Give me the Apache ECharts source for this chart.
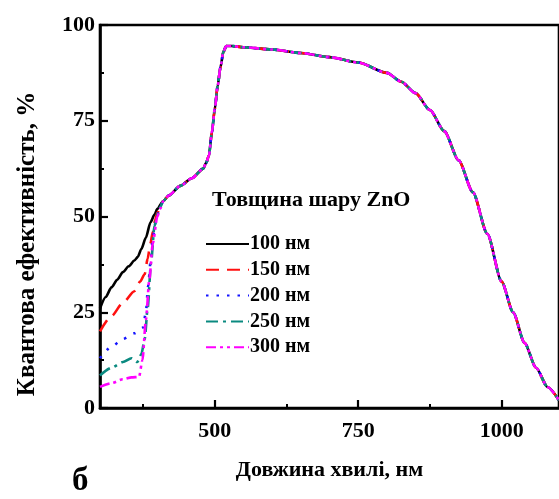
<!DOCTYPE html>
<html>
<head>
<meta charset="utf-8">
<script src="https://cdn.jsdelivr.net/npm/echarts@6/dist/echarts.min.js"></script>
<style>html,body{margin:0;padding:0;background:#fff;}#c{width:559px;height:499px;}</style>
</head>
<body>
<div id="c"></div>
<script>
// Shared part of all curves (wavelength, nm / quantum efficiency, %)
var commonX = [410, 420, 440, 460, 480, 485, 490, 495, 500, 505, 510, 515, 520, 530, 550, 600, 650, 700, 750, 800, 825, 850, 875, 900, 925, 950, 975, 1000, 1020, 1040, 1060, 1080, 1100];
var commonY = [54, 55.5, 58, 60, 62.5, 64, 66, 72, 78, 84, 89, 93, 94.5, 94.5, 94.2, 93.6, 92.7, 91.6, 90.2, 87.5, 85.2, 82.2, 77.8, 72.3, 64.7, 56.3, 45.5, 33, 25, 17, 10.5, 5.5, 2];

// Short-wavelength parts, one per ZnO thickness
var x100 = [300, 310, 320, 330, 340, 350, 360, 366, 372, 380, 388, 395, 400];
var y100 = [26, 29, 31.5, 33.5, 35.5, 37, 38.5, 39.5, 41.5, 44.5, 48.5, 50.5, 52];
var x150 = [300, 320, 340, 360, 370, 378, 383, 388, 392, 396, 400];
var y150 = [20, 24, 27.5, 30.5, 33, 35, 39, 43, 46, 49, 51];
var x200 = [300, 320, 340, 360, 375, 380, 384, 388, 392, 396, 400, 405];
var y200 = [13, 16, 18, 19.5, 21, 25, 32, 38, 44, 48, 50.5, 52.5];
var x250 = [300, 320, 340, 355, 365, 372, 378, 383, 389, 395, 400, 405];
var y250 = [8.5, 10.5, 12, 13, 12, 14, 18, 26, 38, 47.5, 50.5, 52.5];
var x300 = [300, 320, 340, 355, 368, 374, 380, 386, 392, 400, 405];
var y300 = [5.5, 6.5, 7.5, 8, 8.1, 12.5, 23, 33.5, 43, 50, 52];

var seriesNames = ['100 нм', '150 нм', '200 нм', '250 нм', '300 нм'];
var xTickLabels = [500, 750, 1000];
var xMinorTicks = [375, 625, 875];
var yTickLabels = [0, 25, 50, 75, 100];

function pairs(xs, ys) {
  var out = [];
  for (var i = 0; i < xs.length; i++) out.push([xs[i], ys[i]]);
  for (var j = 0; j < commonX.length; j++) out.push([commonX[j], commonY[j]]);
  return out;
}
var starts = [[x100, y100], [x150, y150], [x200, y200], [x250, y250], [x300, y300]];
var colors = ['#000000', '#ff1010', '#1414ff', '#0a8a80', '#ff00ff'];
var dashes = ['solid', [13, 8], [2.5, 8], [12, 5, 3, 5], [10, 4, 3, 4, 3, 4]];

var FONT = '"Liberation Serif", "Times New Roman", serif';

var series = seriesNames.map(function (n, i) {
  return {
    name: n,
    type: 'line',
    xAxisIndex: 0,
    symbol: 'none',
    smooth: 0.25,
    smoothMonotone: 'x',
    data: pairs(starts[i][0], starts[i][1]),
    lineStyle: { color: colors[i], width: 2.6, type: dashes[i] },
    itemStyle: { color: colors[i] },
    z: 2 + i
  };
});

var chart = echarts.init(document.getElementById('c'), null, { renderer: 'canvas' });
chart.setOption({
  backgroundColor: '#ffffff',
  animation: false,
  grid: { left: 100, top: 25, width: 465, height: 383, show: true, borderColor: '#000', borderWidth: 2.6, backgroundColor: 'transparent' },
  xAxis: [{
    type: 'value', min: 300, max: 1100, position: 'bottom',
    name: 'Довжина хвилі, нм', nameLocation: 'middle', nameGap: 51,
    nameTextStyle: { fontFamily: FONT, fontWeight: 'bold', fontSize: 22, color: '#000' },
    axisLine: { show: true, lineStyle: { color: '#000', width: 2.6 } },
    axisTick: { show: true, inside: true, length: 8, lineStyle: { color: '#000', width: 2.2 }, customValues: xTickLabels },
    axisLabel: { customValues: xTickLabels, fontFamily: FONT, fontWeight: 'bold', fontSize: 22, color: '#000', margin: 12,
      formatter: function (v) { return String(v); } },
    splitLine: { show: false }
  }, {
    type: 'value', min: 300, max: 1100, position: 'bottom', gridIndex: 0,
    axisLine: { show: false },
    axisTick: { show: true, inside: true, length: 4, lineStyle: { color: '#000', width: 2 }, customValues: xMinorTicks },
    axisLabel: { show: false },
    splitLine: { show: false }
  }],
  yAxis: {
    type: 'value', min: 0, max: 100, interval: 25,
    name: 'Квантова ефективність, %', nameLocation: 'middle', nameGap: 60, nameRotate: 90,
    nameTextStyle: { fontFamily: FONT, fontWeight: 'bold', fontSize: 25, color: '#000', padding: [0, 0, 0, -55] },
    axisLine: { show: true, lineStyle: { color: '#000', width: 2.6 } },
    axisTick: { show: true, inside: true, length: 8, lineStyle: { color: '#000', width: 2.2 } },
    minorTick: { show: true, splitNumber: 2, length: 4, lineStyle: { color: '#000', width: 2 } },
    axisLabel: { fontFamily: FONT, fontWeight: 'bold', fontSize: 22, color: '#000', margin: 5,
      formatter: function (v) { return yTickLabels.indexOf(v) >= 0 ? String(v) : ''; } },
    splitLine: { show: false }
  },
  legend: {
    data: seriesNames, orient: 'vertical', left: 200, top: 229,
    itemWidth: 43, itemHeight: 14, itemGap: 5.8,
    itemStyle: { opacity: 0 },
    textStyle: { fontFamily: FONT, fontWeight: 'bold', fontSize: 20, color: '#000', padding: [0, 0, 0, -4] }
  },
  graphic: [{
    type: 'text', left: 212, top: 189,
    style: { text: 'Товщина шару ZnO', font: 'bold 22px ' + FONT, fill: '#000' }
  }, {
    type: 'text', left: 72, top: 465,
    style: { text: 'б', font: 'bold 33px ' + FONT, fill: '#000' }
  }],
  series: series
});
</script>
</body>
</html>
